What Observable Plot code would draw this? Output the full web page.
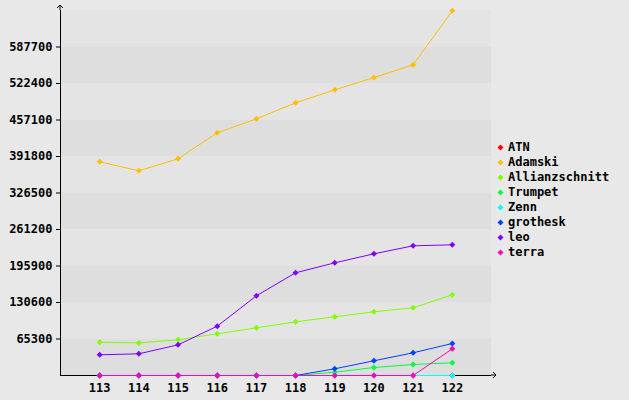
<!DOCTYPE html>
<html>
<head>
<meta charset="utf-8">
<script src="https://cdn.jsdelivr.net/npm/d3@7"></script>
<script src="https://cdn.jsdelivr.net/npm/@observablehq/plot@0.6"></script>
<style>
  html, body { margin: 0; padding: 0; background: #e8e8e8; }
  #wrap { position: relative; width: 629px; height: 400px; }
  #legend { position: absolute; left: 497px; top: 140px; font: bold 12px "DejaVu Sans Mono", monospace; color: #000; }
  #legend .row { height: 15px; line-height: 15px; display: flex; align-items: center; white-space: nowrap; }
  #legend svg { margin-right: 4px; }
</style>
</head>
<body>
<div id="wrap"><div id="legend"></div></div>
<script>
const years = [113, 114, 115, 116, 117, 118, 119, 120, 121, 122];
const seriesNames = ["ATN", "Adamski", "Allianzschnitt", "Trumpet", "Zenn", "grothesk", "leo", "terra"];
const seriesColors = ["#ff0000", "#ffbf00", "#80ff00", "#00ff40", "#00ffff", "#0040ff", "#8000ff", "#ff00bf"];
const ATN = [0, 0, 0, 0, 0, 0, 0, 0, 0, 0];
const Adamski = [382300, 366200, 387700, 434200, 459200, 487800, 511100, 533100, 555800, 652500];
const Allianzschnitt = [59600, 58300, 63800, 74600, 85300, 96000, 105000, 114000, 121100, 144400];
const Trumpet = [0, 0, 0, 0, 0, 0, 5900, 14300, 19700, 22700];
const Zenn = [0, 0, 0, 0, 0, 0, 0, 0, 0, 0];
const grothesk = [0, 0, 0, 0, 0, 0, 12000, 26300, 40600, 57300];
const leo = [37000, 38800, 54900, 88200, 142600, 183700, 201600, 217700, 232000, 233800];
const terra = [0, 0, 0, 0, 0, 0, 0, 0, 0, 47700];
const yTicks = [65300, 130600, 195900, 261200, 326500, 391800, 457100, 522400, 587700];
const yMax = 653000;

const seriesValues = [ATN, Adamski, Allianzschnitt, Trumpet, Zenn, grothesk, leo, terra];
const rows = [];
seriesNames.forEach((name, i) => {
  years.forEach((yr, j) => rows.push({series: name, year: yr, value: seriesValues[i][j], color: seriesColors[i]}));
});

const bandEdges = [0, ...yTicks, yMax];
const bands = bandEdges.slice(0, -1).map((v, i) => ({y1: v, y2: bandEdges[i + 1], fill: i % 2 === 0 ? "#dedede" : "#e4e4e4"}));

// square diamond marker
const squareDiamond = {
  draw(context, size) {
    const r = Math.sqrt(size / Math.PI);
    context.moveTo(0, -r);
    context.lineTo(r, 0);
    context.lineTo(0, r);
    context.lineTo(-r, 0);
    context.closePath();
  }
};

const W = 629, H = 400, ML = 60, MR = 138, MT = 10, MB = 25;

const chart = Plot.plot({
  width: W, height: H,
  marginLeft: ML, marginRight: MR, marginTop: MT, marginBottom: MB,
  style: {background: "#e8e8e8", fontFamily: "'DejaVu Sans Mono', monospace", fontSize: "12px", fontWeight: "bold", color: "#000"},
  x: {domain: [112, 123], ticks: years, tickFormat: d => String(d), tickSize: 0, tickPadding: 8, label: null},
  y: {domain: [0, yMax], ticks: yTicks, tickFormat: d => String(d), tickSize: 4, tickPadding: 4, label: null},
  marks: [
    Plot.rect(bands, {y1: "y1", y2: "y2", fill: d => d.fill}),
    Plot.ruleY([0], {stroke: "#000", strokeWidth: 1}),
    Plot.ruleX([112], {stroke: "#000", strokeWidth: 1}),
    Plot.axisX({ticks: years, tickFormat: d => String(d), tickSize: 0, tickPadding: 8, fontWeight: "bold", fontSize: 12}),
    Plot.axisY({ticks: yTicks, tickFormat: d => String(d), tickSize: 4, tickPadding: 4, fontWeight: "bold", fontSize: 12}),
    ...seriesNames.map((name, i) => Plot.line(rows.filter(r => r.series === name), {x: "year", y: "value", stroke: seriesColors[i], strokeWidth: 1})),
    ...seriesNames.map((name, i) => Plot.dot(rows.filter(r => r.series === name), {x: "year", y: "value", fill: seriesColors[i], symbol: squareDiamond, r: 3, stroke: "none"}))
  ]
});

// axis arrows extending beyond the frame
const svg = d3.select(chart);
const xs = chart.scale("x"), ys = chart.scale("y");
const x0 = xs.apply(112), y0 = ys.apply(0), xEnd = xs.apply(123), yTop = ys.apply(yMax);
const g = svg.append("g").attr("stroke", "#000").attr("fill", "none").attr("stroke-width", 1);
g.append("line").attr("x1", xEnd).attr("x2", xEnd + 5).attr("y1", y0).attr("y2", y0);
g.append("path").attr("d", `M${xEnd + 2},${y0 - 3}L${xEnd + 5},${y0}L${xEnd + 2},${y0 + 3}`);
g.append("line").attr("x1", x0).attr("x2", x0).attr("y1", yTop).attr("y2", yTop - 5);
g.append("path").attr("d", `M${x0 - 3},${yTop - 2}L${x0},${yTop - 5}L${x0 + 3},${yTop - 2}`);

document.getElementById("wrap").prepend(chart);

const legend = document.getElementById("legend");
seriesNames.forEach((name, i) => {
  const row = document.createElement("div");
  row.className = "row";
  row.innerHTML = `<svg width="7" height="7" viewBox="-3.5 -3.5 7 7"><path d="M0,-3L3,0L0,3L-3,0Z" fill="${seriesColors[i]}"/></svg><span>${name}</span>`;
  legend.appendChild(row);
});
</script>
</body>
</html>
